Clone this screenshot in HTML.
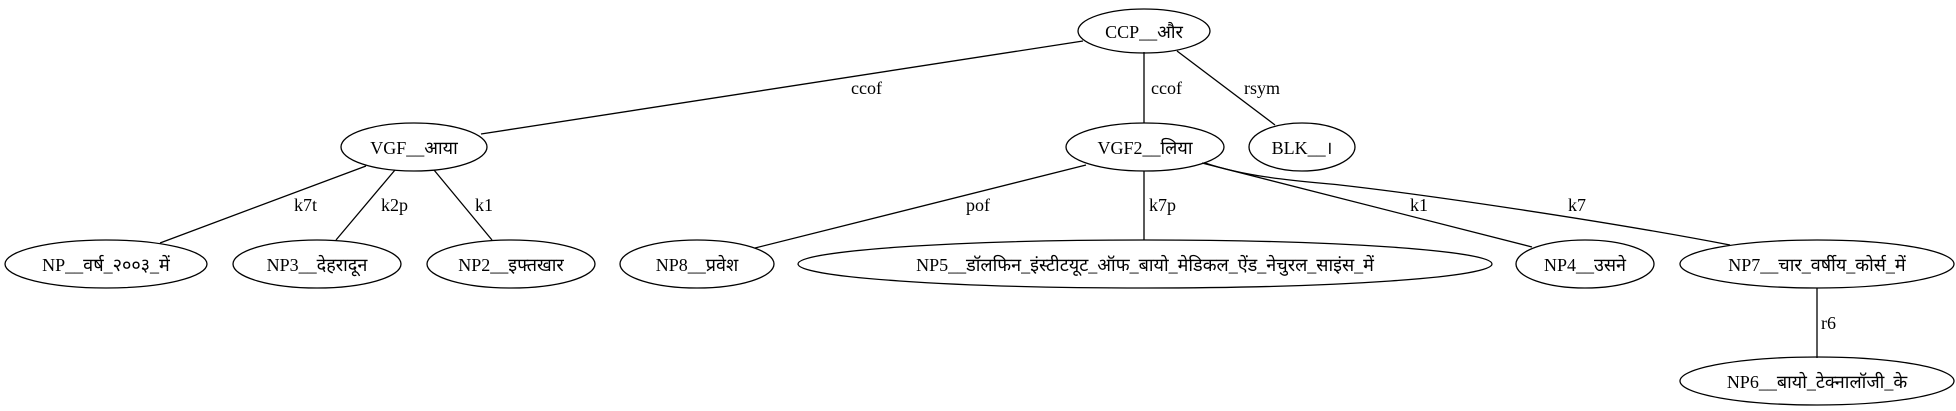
<!DOCTYPE html>
<html><head><meta charset="utf-8"><style>
html,body{margin:0;padding:0;background:#fff;}
svg{display:block}
text{font-family:"Liberation Serif","DejaVu Serif",serif;font-size:18px;fill:#000}
</style></head><body>
<svg width="1956" height="411" viewBox="0 0 1956 411" xmlns="http://www.w3.org/2000/svg">
<g fill="none" stroke="#000" stroke-width="1.3">
<line x1="1083" y1="41" x2="481" y2="134"/>
<line x1="1144" y1="52" x2="1144" y2="123"/>
<line x1="1177" y1="51" x2="1275" y2="125"/>
<line x1="366" y1="166" x2="160" y2="243"/>
<line x1="395" y1="170" x2="336" y2="240"/>
<line x1="434" y1="170" x2="492" y2="240"/>
<line x1="1086" y1="165" x2="755" y2="248"/>
<line x1="1144" y1="171" x2="1144" y2="240"/>
<line x1="1202" y1="163" x2="1532" y2="247"/>
<path d="M1205,163 C1250,178 1300,181 1340,185 C1420,194 1600,220 1730,245"/>
<line x1="1817" y1="288" x2="1817" y2="358"/>
<ellipse cx="1144" cy="31" rx="66" ry="22"/>
<ellipse cx="414" cy="147" rx="73" ry="24"/>
<ellipse cx="1145" cy="147" rx="79" ry="24"/>
<ellipse cx="1302" cy="147" rx="53" ry="24"/>
<ellipse cx="106" cy="264" rx="101" ry="24"/>
<ellipse cx="317" cy="264" rx="84" ry="24"/>
<ellipse cx="511" cy="264" rx="84" ry="24"/>
<ellipse cx="697" cy="264" rx="77" ry="24"/>
<ellipse cx="1145" cy="264" rx="347" ry="24"/>
<ellipse cx="1585" cy="264" rx="69" ry="24"/>
<ellipse cx="1817" cy="264" rx="137" ry="24"/>
<ellipse cx="1817" cy="381" rx="137" ry="24"/>
</g>
<g text-anchor="middle">
<text x="1144" y="38">CCP__और</text>
<text x="414" y="154">VGF__आया</text>
<text x="1145" y="154">VGF2__लिया</text>
<text x="1302" y="154">BLK__।</text>
<text x="106" y="271">NP__वर्ष_२००३_में</text>
<text x="317" y="271">NP3__देहरादून</text>
<text x="511" y="271">NP2__इफ्तखार</text>
<text x="697" y="271">NP8__प्रवेश</text>
<text x="1145" y="271">NP5__डॉलफिन_इंस्टीटयूट_ऑफ_बायो_मेडिकल_ऐंड_नेचुरल_साइंस_में</text>
<text x="1585" y="271">NP4__उसने</text>
<text x="1817" y="271">NP7__चार_वर्षीय_कोर्स_में</text>
<text x="1817" y="388">NP6__बायो_टेक्नालॉजी_के</text>
</g>
<g>
<text x="851" y="94">ccof</text>
<text x="1151" y="94">ccof</text>
<text x="1244" y="94">rsym</text>
<text x="294" y="211">k7t</text>
<text x="381" y="211">k2p</text>
<text x="475" y="211">k1</text>
<text x="966" y="211">pof</text>
<text x="1149" y="211">k7p</text>
<text x="1410" y="211">k1</text>
<text x="1568" y="211">k7</text>
<text x="1821" y="329">r6</text>
</g>
</svg>
</body></html>
